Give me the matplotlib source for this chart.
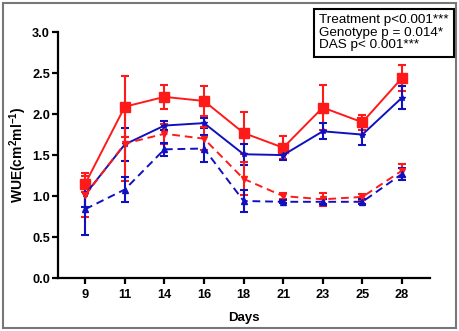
import matplotlib
matplotlib.use("Agg")
import matplotlib.pyplot as plt
from matplotlib.patches import Rectangle
import numpy as np

days = ["9", "11", "14", "16", "18", "21", "23", "25", "28"]

red_solid = [1.15, 2.09, 2.21, 2.16, 1.77, 1.59, 2.08, 1.90, 2.44]
red_solid_err = [0.10, 0.37, 0.15, 0.18, 0.26, 0.14, 0.27, 0.09, 0.16]
blue_solid = [1.02, 1.63, 1.86, 1.89, 1.51, 1.50, 1.79, 1.75, 2.20]
blue_solid_err = [0.15, 0.20, 0.05, 0.06, 0.13, 0.06, 0.10, 0.13, 0.14]
red_dash = [1.01, 1.64, 1.76, 1.70, 1.21, 1.00, 0.96, 0.99, 1.31]
red_dash_err = [0.27, 0.46, 0.12, 0.14, 0.20, 0.04, 0.08, 0.04, 0.08]
blue_dash = [0.84, 1.08, 1.57, 1.58, 0.94, 0.93, 0.93, 0.93, 1.27]
blue_dash_err = [0.32, 0.155, 0.08, 0.16, 0.13, 0.02, 0.03, 0.03, 0.07]

stats_text = "Treatment p<0.001***\nGenotype p = 0.014*\nDAS p< 0.001***"

plt.rcParams['font.family'] = ['Liberation Sans', 'DejaVu Sans']
plt.rcParams['mathtext.fontset'] = 'custom'
plt.rcParams['mathtext.rm'] = 'Liberation Sans'
plt.rcParams['mathtext.bf'] = 'Liberation Sans:bold'

fig = plt.figure(figsize=(4.59, 3.31), dpi=100)
ax = fig.add_axes([0.127, 0.160, 0.810, 0.743])
x = np.arange(len(days))

RED = '#ff1a1a'
BLUE = '#1010c0'
ekw = dict(capsize=3, elinewidth=1.5, capthick=1.5)
ax.errorbar(x, red_solid, yerr=red_solid_err, color=RED, ls='-', lw=1.4, marker='s', ms=6.5, **ekw)
ax.errorbar(x, blue_solid, yerr=blue_solid_err, color=BLUE, ls='-', lw=1.4, marker='*', ms=4, **ekw)
ax.errorbar(x, red_dash, yerr=red_dash_err, color=RED, ls=(0, (4, 2.5)), lw=1.4, marker='v', ms=5, **ekw)
ax.errorbar(x, blue_dash, yerr=blue_dash_err, color=BLUE, ls=(0, (4, 2.5)), lw=1.4, marker='^', ms=5, **ekw)

ax.set_xlim(-0.68, 8.71)
ax.set_ylim(0, 3.0)
ax.set_yticks([0.0, 0.5, 1.0, 1.5, 2.0, 2.5, 3.0])
ax.set_yticklabels([f"{v:.1f}" for v in [0.0, 0.5, 1.0, 1.5, 2.0, 2.5, 3.0]])
ax.set_xticks(x)
ax.set_xticklabels(days)
for s in ['top', 'right']:
    ax.spines[s].set_visible(False)
for s in ['left', 'bottom']:
    ax.spines[s].set_linewidth(1.6)
ax.tick_params(direction='out', width=1.6, length=4, labelsize=9.2)
ax.tick_params(axis='y', pad=2)
ax.tick_params(axis='x', pad=4)
for lab in ax.get_xticklabels() + ax.get_yticklabels():
    lab.set_fontweight('bold')
ax.set_xlabel("Days", fontsize=9.5, fontweight='bold', labelpad=8)
ax.set_ylabel("WUE(cm$^{\\mathbf{2}}$ml$^{\\mathbf{-1}}$)", fontsize=10, fontweight='bold', labelpad=2)

fig.text(0.695, 0.958, stats_text, fontsize=9.7, va='top', ha='left', linespacing=1.08,
         bbox=dict(boxstyle='square,pad=0.4', fc='white', ec='black', lw=1.5))

fig.patches.append(Rectangle((0.006, 0.008), 0.988, 0.984, transform=fig.transFigure,
                             fill=False, ec='#777777', lw=1.5))
fig.savefig("out.png", dpi=100)
